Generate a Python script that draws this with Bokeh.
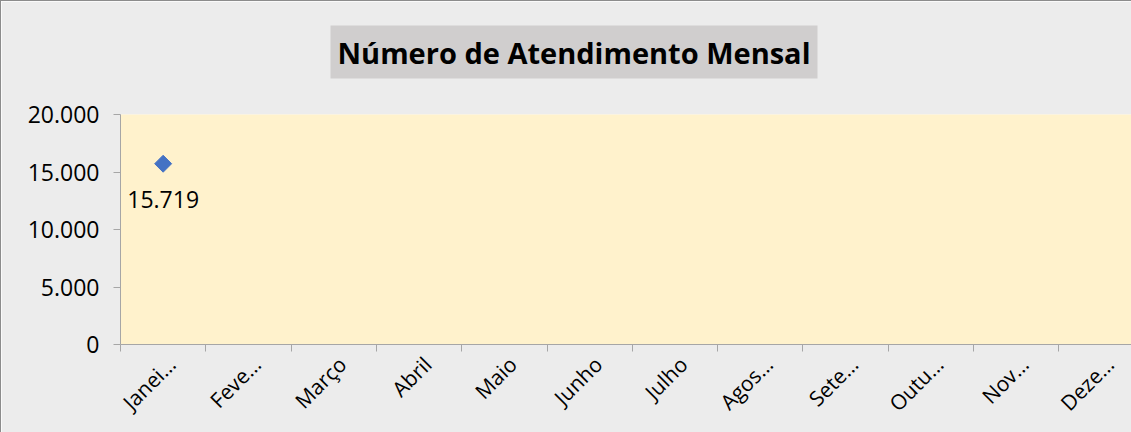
import math
from bokeh.plotting import figure
from bokeh.models import ColumnDataSource, Range1d, FixedTicker, LinearAxis, Title
from bokeh.core.properties import value
from bokeh.embed import file_html
from bokeh.resources import INLINE

# ---- data ----
months = ["Janeiro", "Fevereiro", "Março", "Abril", "Maio", "Junho",
          "Julho", "Agosto", "Setembro", "Outubro", "Novembro", "Dezembro"]
month_tick_labels = ["Janei…", "Feve…", "Março", "Abril", "Maio", "Junho",
                     "Julho", "Agos…", "Sete…", "Outu…", "Nov…", "Deze…"]
atendimentos = [15719] + [float("nan")] * 11
y_ticks = [0, 5000, 10000, 15000, 20000]
y_tick_labels = ["0", "5.000", "10.000", "15.000", "20.000"]
title_text = "Número de Atendimento Mensal"

FONT = "Open Sans"

x_centers = [i + 0.5 for i in range(len(months))]
x_bounds = list(range(len(months) + 1))
label_pos = [c + 0.1 for c in x_centers]

src = ColumnDataSource(dict(x=x_centers, y=atendimentos, month=months))
valid = [(x, v) for x, v in zip(x_centers, atendimentos) if not math.isnan(v)]
lbl_src = ColumnDataSource(dict(
    x=[x for x, _ in valid], y=[v for _, v in valid],
    label=[f"{v:,.0f}".replace(",", ".") for _, v in valid]))

p = figure(width=1131, height=432, output_backend="svg", toolbar_location=None,
           x_range=Range1d(0, 11.864), y_range=Range1d(0, 20000),
           min_border_left=119, min_border_right=0,
           min_border_top=113, min_border_bottom=89,
           background_fill_color="#FFF2CC", border_fill_color="#ECECEC",
           outline_line_color=None)
p.styles = {"border-left": "1px solid #8C8C8C", "border-top": "1px solid #8C8C8C"}

p.xgrid.visible = False
p.ygrid.visible = False

# y axis
ya = p.yaxis[0]
ya.ticker = FixedTicker(ticks=y_ticks)
ya.major_label_overrides = {t: l for t, l in zip(y_ticks, y_tick_labels)}
ya.minor_tick_line_color = None
ya.major_tick_in = 0
ya.major_tick_out = 7
ya.axis_line_color = "#A6A6A6"
ya.major_tick_line_color = "#A6A6A6"
ya.major_label_text_font = FONT
ya.major_label_text_font_size = "23px"
ya.major_label_text_color = "#000000"
ya.major_label_standoff = 14

# x axis: labels near category centres, tick marks (minor) at category boundaries
xa = p.xaxis[0]
xa.ticker = FixedTicker(ticks=label_pos, minor_ticks=x_bounds)
xa.major_label_overrides = {c: l for c, l in zip(label_pos, month_tick_labels)}
xa.axis_line_color = "#A6A6A6"
xa.major_tick_line_color = None
xa.major_tick_in = 0
xa.major_tick_out = 7
xa.minor_tick_line_color = "#A6A6A6"
xa.minor_tick_in = 0
xa.minor_tick_out = 7
xa.major_label_orientation = math.pi / 4
xa.major_label_text_font = FONT
xa.major_label_text_font_size = "21px"
xa.major_label_text_color = "#000000"
xa.major_label_standoff = 9

# invisible spacer between title and plot area
spacer = LinearAxis(ticker=FixedTicker(ticks=[x_centers[0]]))
spacer.major_label_overrides = {x_centers[0]: ""}
spacer.axis_line_color = None
spacer.major_tick_line_color = None
spacer.minor_tick_line_color = None
spacer.major_tick_in = 0
spacer.major_tick_out = 31
spacer.minor_tick_in = 0
spacer.minor_tick_out = 0
spacer.major_label_standoff = 0
p.add_layout(spacer, "above")

p.scatter("x", "y", source=src, marker="square", size=12, angle=math.pi / 4,
          fill_color="#4472C4", line_color="#4472C4")
p.text("x", "y", text="label", source=lbl_src, text_font=value(FONT),
       text_font_size="23px", text_align="center", text_baseline="top",
       y_offset=27, text_color="#000000")

p.title = Title(text=title_text, align="left", offset=210, standoff=10,
                text_font=FONT, text_font_size="29px", text_font_style="bold",
                text_color="#000000", background_fill_color="#D0CECE",
                padding=7)

open("out.html", "w").write(file_html(p, INLINE))
